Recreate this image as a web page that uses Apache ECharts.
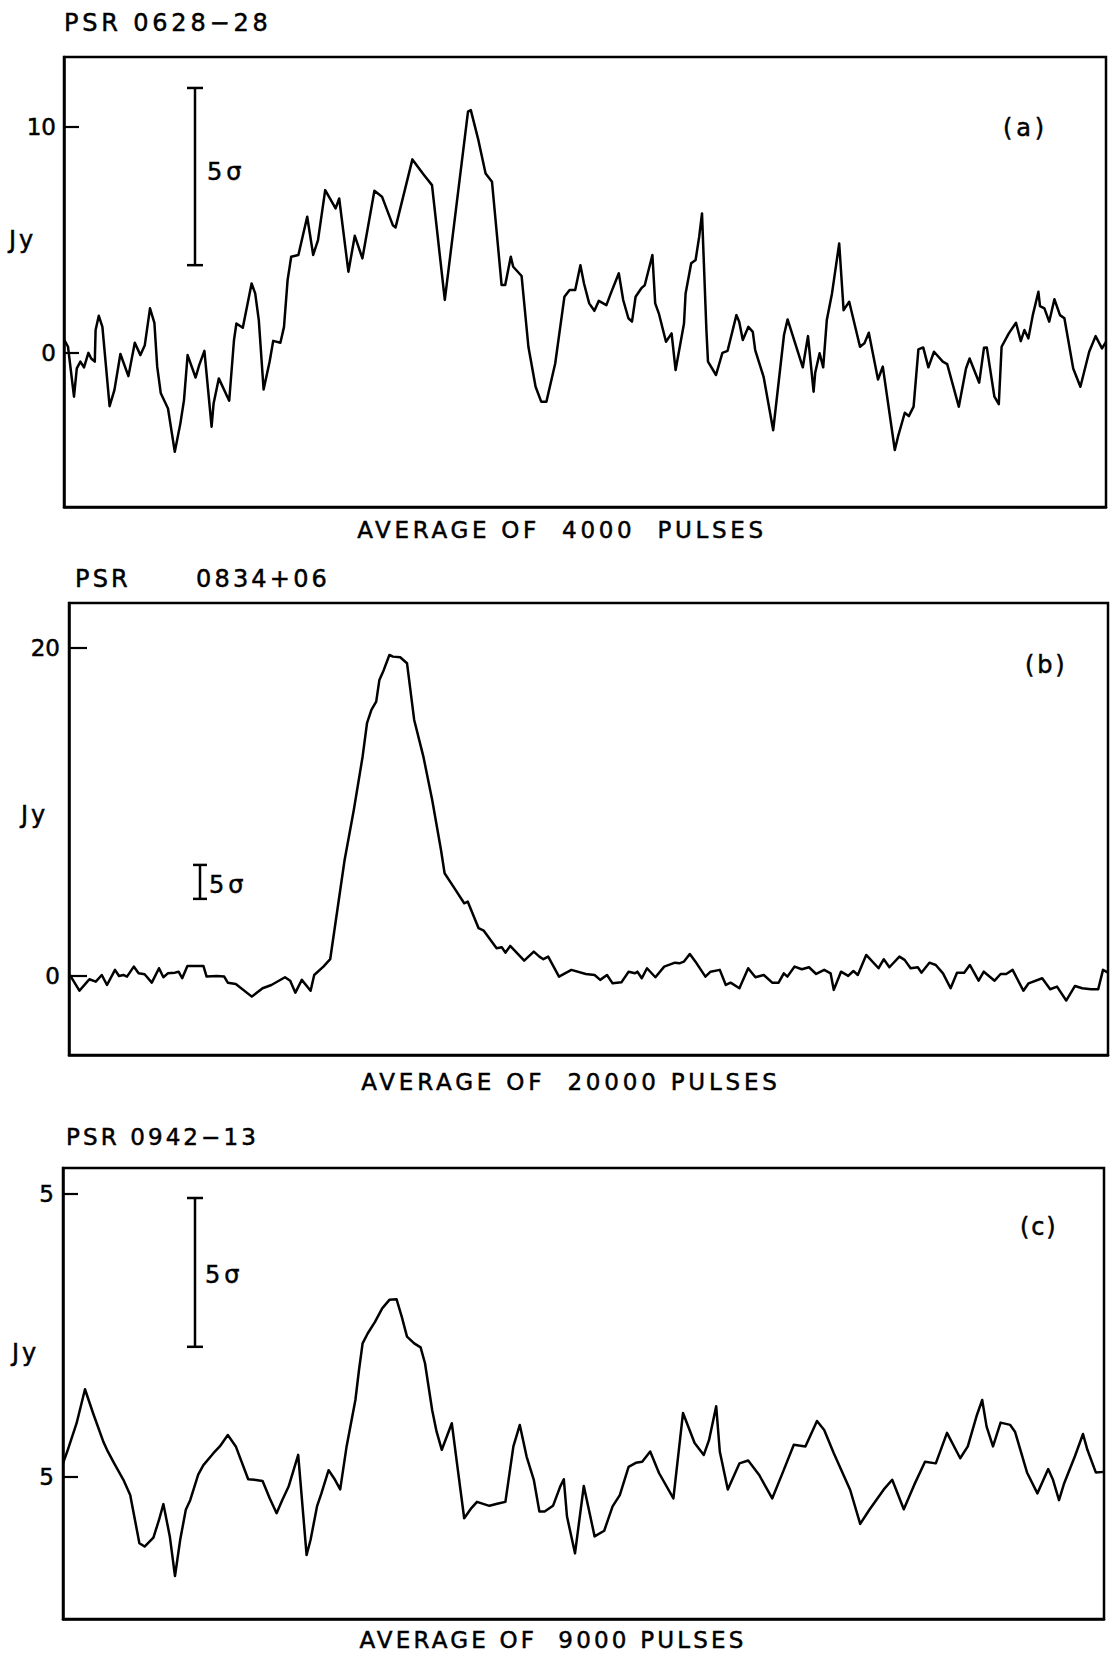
<!DOCTYPE html>
<html>
<head>
<meta charset="utf-8">
<title>Average pulse profiles</title>
<script src="https://cdn.jsdelivr.net/npm/echarts/dist/echarts.min.js"></script>
<style>
  html, body { margin: 0; padding: 0; background: #fff; }
  #chart { width: 1110px; height: 1654px; }
  /* keep runs of spaces inside the lettering */
  #chart text { white-space: pre; }
</style>
</head>
<body>
<div id="chart"></div>
<script>
// Average profiles: [phase bin, flux density in Jy]
const profileA = [
  [0.1,0.58],[1.0,0.28],[2.5,-1.93],[3.2,-0.68],[4.1,-0.38],[5.0,-0.63],[6.1,0.01],[6.8,-0.24],
  [7.7,-0.38],[7.9,1.02],[8.7,1.65],[9.6,1.16],[11.4,-2.35],[12.6,-1.64],[14.1,-0.04],[16.1,-1.02],
  [17.7,0.46],[19.1,-0.09],[20.2,0.35],[21.5,1.98],[22.6,1.34],[23.3,-0.6],[24.2,-1.78],[26.0,-2.45],
  [27.7,-4.37],[29.1,-3.11],[30.0,-2.08],[30.9,-0.09],[32.9,-1.08],[33.8,-0.53],[35.1,0.10],[36.9,-3.26],
  [37.4,-2.23],[38.7,-1.12],[41.3,-2.11],[42.5,0.58],[43.1,1.31],[44.7,1.12],[46.9,3.08],[47.8,2.64],
  [48.7,1.46],[49.9,-1.61],[51.4,-0.38],[52.3,0.54],[54.1,0.46],[55.0,1.16],[55.9,3.23],[56.8,4.26],
  [58.6,4.34],[60.8,6.03],[62.3,4.34],[63.5,5.0],[65.3,7.21],[67.9,6.4],[68.8,6.84],[71.1,3.6],
  [72.7,5.19],[74.6,4.19],[77.6,7.18],[79.5,6.92],[82.2,5.66],[82.9,5.56],[87.1,8.57],[89.8,7.92],
  [92.0,7.43],[95.2,2.35],[101.0,10.68],[101.7,10.75],[103.6,9.42],[105.4,7.95],[107.0,7.58],[109.4,3.01],
  [110.3,3.01],[111.7,4.26],[112.3,3.82],[114.4,3.41],[116.1,0.28],[117.9,-1.49],[119.3,-2.15],[120.6,-2.15],
  [122.8,-0.46],[125.1,2.49],[126.4,2.79],[127.8,2.79],[129.1,3.89],[130.0,3.08],[131.3,2.2],[132.6,1.87],
  [133.7,2.31],[135.6,2.12],[136.7,2.64],[138.7,3.53],[139.8,2.35],[141.1,1.54],[142.0,1.39],[142.9,2.49],
  [144.3,2.86],[145.2,3.01],[147.1,4.34],[147.8,2.2],[148.7,1.76],[150.5,0.5],[151.9,0.87],[152.9,-0.75],
  [155.0,1.31],[155.4,2.64],[156.8,3.97],[157.9,4.12],[158.8,5.15],[159.5,6.18],[160.6,1.02],[161.0,-0.38],
  [163.0,-0.97],[164.6,0.01],[165.9,0.10],[168.1,1.68],[168.8,1.39],[169.7,0.58],[171.1,1.16],[172.2,0.94],
  [172.8,0.13],[174.9,-1.05],[177.3,-3.41],[180.0,0.8],[180.9,1.49],[184.7,-0.63],[186.0,0.75],[187.4,-1.71],
  [187.8,-0.87],[188.9,-0.01],[189.8,-0.63],[190.7,1.46],[192.0,2.64],[193.8,4.85],[194.9,1.9],[196.3,2.27],
  [199.0,0.28],[200.1,0.43],[201.2,0.9],[203.5,-1.17],[204.7,-0.6],[207.7,-4.29],[208.5,-3.7],[210.2,-2.64],
  [211.2,-2.79],[212.4,-2.37],[213.6,0.16],[214.8,0.25],[216.1,-0.63],[217.5,0.06],[219.7,-0.38],[220.8,-0.49],
  [223.7,-2.37],[225.5,-0.68],[226.4,-0.24],[228.8,-1.31],[230.0,0.24],[230.7,0.25],[232.6,-1.93],[233.7,-2.26],
  [234.4,0.28],[236.2,0.87],[238.0,1.34],[239.2,0.53],[240.1,1.02],[241.1,0.65],[242.2,1.68],[243.6,2.71],
  [244.0,2.08],[245.1,1.98],[246.3,1.39],[247.6,2.38],[249.0,1.68],[250.1,1.54],[252.3,-0.68],[254.1,-1.49],
  [256.3,0.06],[257.9,0.75],[259.5,0.21],[260.5,0.5]
];

const profileB = [
  [0.2,0.06],[2.6,-0.9],[4.2,-0.45],[5.1,-0.2],[6.7,-0.35],[8.2,0.06],[9.5,-0.55],[11.5,0.37],
  [12.5,0],[13.6,0.06],[14.5,-0.04],[16.2,0.57],[17.4,0.16],[18.9,0.1],[20.7,-0.41],[22.5,0.47],
  [23.6,-0.08],[24.7,0.16],[26.5,0.2],[27.4,0.26],[28.3,-0.14],[29.6,0.61],[33.6,0.61],[34.4,-0.04],
  [37.0,0],[38.8,-0.04],[39.7,-0.41],[41.7,-0.49],[45.7,-1.26],[48.4,-0.75],[50.6,-0.55],[54.0,-0.08],
  [55.3,-0.29],[56.6,-1.02],[58.2,-0.24],[60.4,-0.9],[61.3,0.06],[63.6,0.57],[65.3,1.02],[68.9,7.07],
  [71.2,10.12],[73.4,13.37],[74.5,15.41],[75.6,16.22],[76.8,16.73],[77.6,18.05],[78.7,18.66],[80.1,19.57],
  [81.0,19.47],[82.8,19.43],[84.5,19.07],[86.3,15.61],[88.6,13.37],[90.8,10.73],[93.0,7.68],[93.9,6.26],
  [96.1,5.45],[98.8,4.43],[99.7,4.53],[102.4,2.91],[103.7,2.76],[106.9,1.69],[108.2,1.75],[109.1,1.42],
  [110.3,1.83],[113.8,0.93],[116.2,1.48],[117.6,1.18],[118.6,1.02],[119.8,1.18],[122.5,-0.04],[125.6,0.37],
  [129.2,0.12],[131.4,0.06],[132.8,-0.24],[134.5,0.06],[135.9,-0.45],[138.1,-0.39],[139.9,0.26],[141.5,0.16],
  [142.1,0.26],[143.2,-0.14],[144.5,0.47],[146.6,-0.08],[148.8,0.57],[151.5,0.81],[152.6,0.77],[153.7,0.87],
  [155.2,1.34],[156.9,0.77],[159.1,-0.04],[160.4,0.26],[162.7,0.37],[164.2,-0.55],[165.4,-0.41],[167.6,-0.75],
  [169.8,0.47],[171.6,-0.08],[173.7,0.06],[175.8,-0.41],[177.4,-0.41],[178.7,0.16],[179.6,-0.04],[181.4,0.57],
  [183.2,0.41],[185.0,0.53],[186.8,0.12],[188.8,0.37],[190.4,0.16],[191.2,-0.85],[193.0,0.26],[194.8,0],
  [196.1,0.3],[197.2,0.06],[199.3,1.28],[202.4,0.47],[203.7,1.02],[205.1,0.53],[207.6,1.18],[208.9,0.98],
  [210.4,0.47],[212.2,0.53],[213.1,0.2],[215.1,0.81],[216.7,0.67],[218.5,0.16],[220.4,-0.75],[222.0,0.2],
  [223.8,0.2],[225.2,0.67],[227.4,-0.29],[228.7,0.26],[231.4,-0.29],[232.9,0.12],[234.3,0.12],[235.9,0.37],
  [238.6,-0.9],[239.9,-0.45],[243.3,-0.14],[245.3,-0.81],[247.0,-0.65],[249.3,-1.5],[251.5,-0.61],[253.3,-0.75],
  [255.5,-0.81],[257.3,-0.81],[258.5,0.37],[259.75,0.2]
];

const profileC = [
  [0,0.24],[1.2,0.48],[3.4,0.95],[5.5,1.55],[7.5,1.13],[10.1,0.62],[11.0,0.48],[12.8,0.24],
  [15.1,-0.05],[16.8,-0.32],[19.1,-1.17],[20.4,-1.23],[22.6,-1.07],[24.0,-0.76],[25.1,-0.48],[26.7,-1.05],
  [28.0,-1.75],[29.3,-1.11],[30.7,-0.58],[31.8,-0.41],[33.8,0.04],[35.1,0.21],[37.6,0.42],[39.2,0.54],
  [41.2,0.74],[43.2,0.54],[46.3,-0.04],[47.8,-0.05],[49.9,-0.07],[51.7,-0.38],[53.4,-0.64],[54.8,-0.41],
  [56.4,-0.17],[58.8,0.39],[60.9,-1.38],[61.9,-1.11],[63.5,-0.52],[64.6,-0.29],[66.4,0.12],[68.0,-0.05],
  [69.3,-0.22],[70.9,0.54],[73.1,1.36],[74.0,1.89],[74.9,2.36],[76.2,2.54],[78.0,2.74],[79.8,2.98],
  [81.6,3.13],[83.4,3.14],[84.7,2.83],[86.0,2.48],[87.8,2.36],[89.4,2.29],[90.5,2.01],[92.3,1.18],
  [93.4,0.8],[94.7,0.48],[97.2,0.95],[98.5,0.24],[100.3,-0.73],[102.1,-0.55],[103.5,-0.44],[106.6,-0.51],
  [108.8,-0.47],[110.6,-0.44],[112.6,0.54],[114.2,0.92],[115.9,0.36],[117.7,-0.05],[119.1,-0.61],[120.4,-0.61],
  [122.5,-0.51],[124.3,-0.17],[125.2,-0.04],[126.0,-0.7],[128.0,-1.35],[130.2,-0.16],[132.9,-1.05],[135.3,-0.95],
  [137.4,-0.52],[139.2,-0.32],[141.4,0.18],[143.2,0.25],[144.8,0.27],[146.8,0.45],[149.0,0.07],[152.6,-0.38],
  [155.0,1.13],[157.9,0.6],[160.2,0.39],[161.5,0.65],[163.3,1.25],[164.2,0.45],[166.2,-0.22],[169.1,0.24],
  [171.3,0.29],[174.0,0.04],[177.3,-0.38],[180.0,0.09],[182.7,0.57],[185.6,0.54],[188.5,0.99],[190.3,0.83],
  [192.7,0.42],[196.8,-0.23],[199.3,-0.83],[201.6,-0.58],[205.2,-0.22],[207.3,-0.05],[210.2,-0.57],[212.8,-0.14],
  [215.5,0.27],[218.2,0.24],[221.0,0.78],[224.3,0.33],[226.2,0.54],[228.5,1.1],[229.8,1.36],[230.9,0.89],
  [232.5,0.54],[234.4,0.96],[236.8,0.92],[238.0,0.8],[241.0,0.08],[243.6,-0.29],[246.3,0.14],[247.5,-0.05],
  [249.0,-0.41],[250.3,-0.11],[253.0,0.37],[255.0,0.76],[256.1,0.48],[258.2,0.08],[260.25,0.09]
];

// Labelled y-axis tick values and the text printed at them
const tickValuesA = [0, 10];
const tickTextA = ['0', '10'];
const tickValuesB = [0, 20];
const tickTextB = ['0', '20'];
const tickValuesC = [0, 5];
const tickTextC = ['5', '5'];

// Length of the 5-sigma error bar in each panel (Jy)
const fiveSigmaJy = [7.84, 2.07, 2.63];

const pulsars = ['PSR 0628\u221228', 'PSR      0834+06', 'PSR 0942\u221213'];
const panelTags = ['(a)', '(b)', '(c)'];
const averages = ['AVERAGE OF  4000  PULSES', 'AVERAGE OF  20000 PULSES', 'AVERAGE OF  9000 PULSES'];

// ---- lettering ----
const FONT = '"DejaVu Sans", sans-serif';
const FS = 23;
// letter spacing (px) of each piece of stencil lettering
const spacingOf = new Map();
[[pulsars[0], 3.8], [pulsars[1], 3.2], [pulsars[2], 3.1],
 [averages[0], 3.7], [averages[1], 3.8], [averages[2], 3.2],
 [panelTags[0], 3.8], [panelTags[1], 2.8], [panelTags[2], 1.8],
 ['Jy', 3], ['5\u03c3', 4]].forEach(([t, s]) => spacingOf.set(t, s));

// ---- layout ----
const panels = [
  { data: profileA, ticks: tickValuesA, text: tickTextA, grid: { left: 64, top: 57, width: 1042, height: 450 },
    xMax: 260.5, yMin: -6.81, yMax: 13.1, tickLen: 15, labelMargin: 8, barX: 32.75, barBase: 3.89, cap: 8,
    title: [64, 23, 24], jy: [9, 240], sigmaText: [207, 172], tag: [1003, 128], avg: [562, 530] },
  { data: profileB, ticks: tickValuesB, text: tickTextB, grid: { left: 69, top: 603, width: 1039, height: 452 },
    xMax: 259.75, yMin: -4.82, yMax: 22.74, tickLen: 18, labelMargin: 9, barX: 32.75, barBase: 4.70, cap: 7,
    title: [75, 579, 24], jy: [21, 815], sigmaText: [209, 885], tag: [1025, 665], avg: [571, 1082] },
  { data: profileC, ticks: tickValuesC, text: tickTextC, grid: { left: 63, top: 1168, width: 1041, height: 451 },
    xMax: 260.25, yMin: -2.51, yMax: 5.46, tickLen: 15, labelMargin: 9, barX: 33, barBase: 2.30, cap: 8,
    title: [66, 1137, 23], jy: [12, 1353], sigmaText: [205, 1275], tag: [1020, 1227], avg: [553, 1640] }
];

const grids = [], xAxes = [], yAxes = [], series = [], graphics = [];

function txt(str, x, y, align, size) {
  return { type: 'text', x: x, y: y, silent: true,
    style: { text: str, font: (size || FS) + 'px ' + FONT, fill: '#000', stroke: '#000', lineWidth: 0.5,
      textAlign: align || 'left', textVerticalAlign: 'middle' } };
}

panels.forEach((p, i) => {
  grids.push(Object.assign({ show: true, borderColor: '#000', borderWidth: 2.5, backgroundColor: 'transparent' }, p.grid));
  xAxes.push({
    type: 'value', gridIndex: i, min: 0, max: p.xMax,
    axisLine: { show: true, onZero: false, lineStyle: { color: '#000', width: 2.5 } },
    axisTick: { show: false }, axisLabel: { show: false }, splitLine: { show: false }
  });
  yAxes.push({
    type: 'value', gridIndex: i, min: p.yMin, max: p.yMax,
    axisLine: { show: true, onZero: false, lineStyle: { color: '#000', width: 2.5 } },
    axisTick: { show: true, inside: true, length: p.tickLen, customValues: p.ticks, lineStyle: { color: '#000', width: 2.2 } },
    axisLabel: {
      show: true, customValues: p.ticks, margin: p.labelMargin, color: '#000', fontSize: FS, fontFamily: FONT,
      textBorderColor: '#000', textBorderWidth: 0.5,
      formatter: v => p.text[p.ticks.indexOf(v)]
    },
    splitLine: { show: false }
  });
  series.push({
    type: 'line', xAxisIndex: i, yAxisIndex: i, data: p.data, showSymbol: false, symbol: 'none',
    lineStyle: { color: '#000', width: 2.5, join: 'round' }, silent: true, animation: false, clip: true
  });
  // 5-sigma error bar drawn through the panel's own scales
  series.push({
    type: 'custom', xAxisIndex: i, yAxisIndex: i, silent: true, animation: false,
    data: [[p.barX, p.barBase, p.barBase + fiveSigmaJy[i]]],
    encode: { x: 0, y: [1, 2] },
    renderItem: (params, api) => {
      const top = api.coord([api.value(0), api.value(2)]);
      const bot = api.coord([api.value(0), api.value(1)]);
      const s = { stroke: '#000', lineWidth: 2.5 };
      return { type: 'group', children: [
        { type: 'line', shape: { x1: top[0], y1: top[1], x2: bot[0], y2: bot[1] }, style: s },
        { type: 'line', shape: { x1: top[0] - p.cap, y1: top[1], x2: top[0] + p.cap, y2: top[1] }, style: s },
        { type: 'line', shape: { x1: bot[0] - p.cap, y1: bot[1], x2: bot[0] + p.cap, y2: bot[1] }, style: s }
      ] };
    }
  });
  graphics.push(txt(pulsars[i], p.title[0], p.title[1], 'left', p.title[2]));
  graphics.push(txt('Jy', p.jy[0], p.jy[1], 'left', 24));
  graphics.push(txt('5\u03c3', p.sigmaText[0], p.sigmaText[1], 'left', 24));
  graphics.push(txt(panelTags[i], p.tag[0], p.tag[1], 'left', 24));
  graphics.push(txt(averages[i], p.avg[0], p.avg[1], 'center'));
});

const chart = echarts.init(document.getElementById('chart'), null, { renderer: 'svg', width: 1110, height: 1654 });
chart.setOption({
  backgroundColor: '#fff',
  animation: false,
  grid: grids,
  xAxis: xAxes,
  yAxis: yAxes,
  series: series,
  graphic: graphics
});

// widen the stencil lettering of titles and captions
chart.getDom().querySelectorAll('text').forEach(t => {
  const s = spacingOf.get(t.textContent);
  if (s) t.style.letterSpacing = s + 'px';
});
</script>
</body>
</html>
